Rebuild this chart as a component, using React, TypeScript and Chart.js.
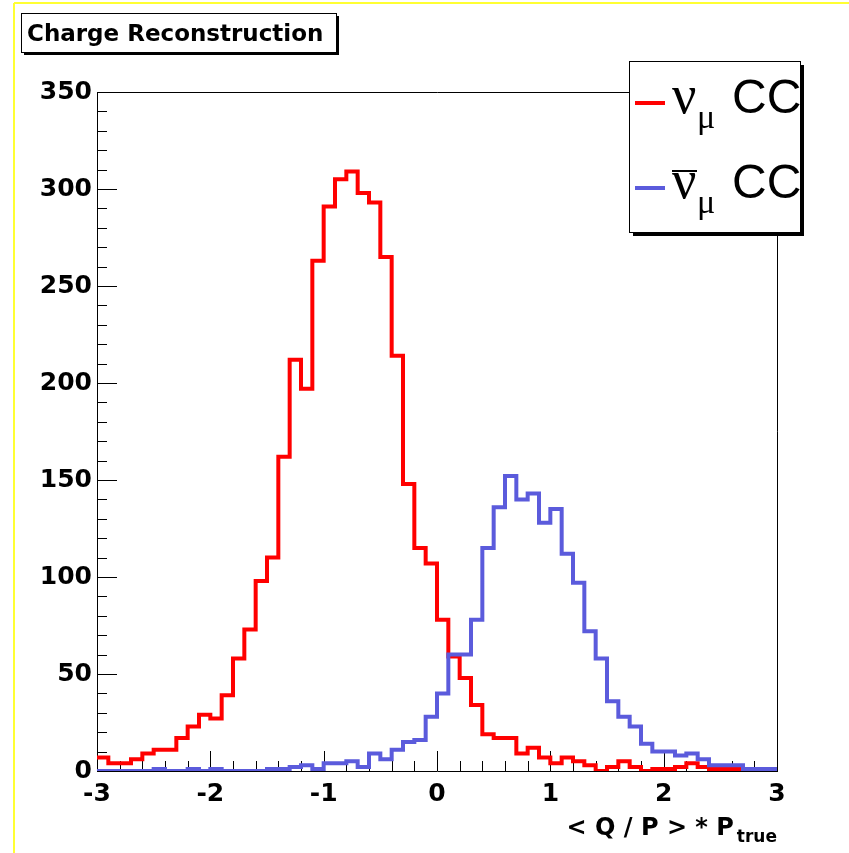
import React, { useEffect, useRef } from "react";
import { Chart, registerables } from "chart.js";

Chart.register(...registerables);

// ---- data ----
const X_MIN = -3;
const X_MAX = 3;
const BIN_WIDTH = 0.1;

// nu_mu CC (red)
const numuCC = [
  7, 4, 4, 6, 9, 11, 11, 17, 23, 29,
  27, 39, 58, 73, 98, 110, 162, 212, 197, 263,
  291, 305, 309, 298, 293, 265, 214, 148, 115, 107,
  78, 59, 48, 34, 19, 17, 17, 9, 12, 7,
  4, 7, 5, 3, 0, 2, 5, 2, 0, 1,
  1, 2, 4, 2, 1, 1, 1, 0, 0, 0,
];

// anti-nu_mu CC (blue)
const numubarCC = [
  0, 0, 0, 0, 0, 1, 0, 0, 1, 0,
  1, 0, 0, 0, 0, 1, 1, 2, 3, 1,
  4, 4, 5, 2, 9, 6, 11, 15, 16, 28,
  40, 60, 60, 78, 115, 136, 152, 140, 143, 128,
  135, 112, 97, 72, 58, 36, 28, 23, 14, 10,
  10, 8, 9, 6, 3, 3, 3, 1, 1, 1,
];

const xTickValues = [-3, -2, -1, 0, 1, 2, 3];
const yTickValues = [0, 50, 100, 150, 200, 250, 300, 350];
const Y_MAX = 350;

const titleText = "Charge Reconstruction";
const xAxisTitle = "< Q / P > * P";
const xAxisTitleSub = "true";

const legendEntries = [
  { symbol: "\u03bd", sub: "\u03bc", text: "CC", bar: false, color: "#ff0000" },
  { symbol: "\u03bd", sub: "\u03bc", text: "CC", bar: true, color: "#5b5bdc" },
];

const RED = "#ff0000";
const BLUE = "#5b5bdc";

function outline(values: number[]) {
  const pts: { x: number; y: number }[] = [];
  values.forEach((v, i) => {
    const lo = X_MIN + i * BIN_WIDTH;
    pts.push({ x: lo, y: v }, { x: lo + BIN_WIDTH, y: v });
  });
  return pts;
}

const rootPlugin = {
  id: "rootStyle",
  beforeDraw(chart: any) {
    const ctx = chart.ctx;
    ctx.save();
    ctx.fillStyle = "#ffffff";
    ctx.fillRect(0, 0, chart.width, chart.height);
    ctx.strokeStyle = "#ffff33";
    ctx.lineWidth = 2;
    ctx.beginPath();
    ctx.moveTo(14, 3);
    ctx.lineTo(chart.width, 3);
    ctx.moveTo(14, 3);
    ctx.lineTo(14, chart.height);
    ctx.stroke();
    ctx.restore();
  },
  beforeDatasetsDraw(chart: any) {
    const ctx = chart.ctx;
    const { left, right, top, bottom } = chart.chartArea;
    const xs = chart.scales.x;
    const ys = chart.scales.y;
    ctx.save();
    ctx.strokeStyle = "#000";
    ctx.lineWidth = 1;
    ctx.beginPath();
    // frame top & right
    ctx.moveTo(left, top + 0.5);
    ctx.lineTo(right + 0.5, top + 0.5);
    ctx.lineTo(right + 0.5, bottom);
    // x ticks (inward)
    for (let k = 0; k <= 30; k++) {
      const v = X_MIN + k * 0.2;
      const px = Math.round(xs.getPixelForValue(v)) + 0.5;
      const len = k % 5 === 0 ? 20 : 10;
      ctx.moveTo(px, bottom);
      ctx.lineTo(px, bottom - len);
    }
    // y ticks (inward)
    for (let k = 0; k <= 35; k++) {
      const v = k * 10;
      const py = Math.round(ys.getPixelForValue(v)) + 0.5;
      const len = k % 5 === 0 ? 20 : 10;
      ctx.moveTo(left, py);
      ctx.lineTo(left + len, py);
    }
    ctx.stroke();
    ctx.restore();
  },
  afterDraw(chart: any) {
    const ctx = chart.ctx;
    ctx.save();
    // ---- title box ----
    const tb = { x: 21, y: 13, w: 315, h: 39 };
    ctx.fillStyle = "#000";
    ctx.fillRect(tb.x + 3, tb.y + 3, tb.w, tb.h);
    ctx.fillStyle = "#fff";
    ctx.fillRect(tb.x, tb.y, tb.w, tb.h);
    ctx.strokeStyle = "#000";
    ctx.lineWidth = 1;
    ctx.strokeRect(tb.x + 0.5, tb.y + 0.5, tb.w, tb.h);
    ctx.fillStyle = "#000";
    ctx.font = "bold 23px 'DejaVu Sans'";
    ctx.textBaseline = "alphabetic";
    ctx.textAlign = "left";
    ctx.fillText(titleText, 27, 41);

    // ---- x axis title ----
    const { right } = chart.chartArea;
    ctx.font = "bold 17px 'DejaVu Sans'";
    const subW = ctx.measureText(xAxisTitleSub).width;
    const subX = right - subW;
    ctx.fillText(xAxisTitleSub, subX, 842);
    ctx.font = "bold 24px 'DejaVu Sans'";
    ctx.textAlign = "right";
    ctx.fillText(xAxisTitle, subX - 3, 835);

    // ---- legend ----
    const lb = { x: 629, y: 61, w: 171, h: 171 };
    ctx.fillStyle = "#000";
    ctx.fillRect(lb.x + 4, lb.y + 4, lb.w, lb.h);
    ctx.fillStyle = "#fff";
    ctx.fillRect(lb.x, lb.y, lb.w, lb.h);
    ctx.strokeStyle = "#000";
    ctx.lineWidth = 1;
    ctx.strokeRect(lb.x + 0.5, lb.y + 0.5, lb.w, lb.h);
    ctx.save();
    ctx.beginPath();
    ctx.rect(lb.x + 1, lb.y + 1, lb.w - 1, lb.h - 1);
    ctx.clip();
    const rows = [
      { lineY: 103, base: 113, subBase: 128 },
      { lineY: 188, base: 198, subBase: 213 },
    ];
    legendEntries.forEach((e, i) => {
      const r = rows[i];
      ctx.strokeStyle = e.color;
      ctx.lineWidth = 4;
      ctx.beginPath();
      ctx.moveTo(635, r.lineY);
      ctx.lineTo(665, r.lineY);
      ctx.stroke();
      ctx.fillStyle = "#000";
      ctx.textAlign = "left";
      ctx.font = "54px 'Liberation Serif'";
      ctx.fillText(e.symbol, 672, r.base);
      if (e.bar) {
        ctx.strokeStyle = "#000";
        ctx.lineWidth = 2;
        ctx.beginPath();
        ctx.moveTo(672, r.base - 27);
        ctx.lineTo(697, r.base - 27);
        ctx.stroke();
      }
      ctx.font = "34px 'Liberation Serif'";
      ctx.fillText(e.sub, 697, r.subBase);
      ctx.font = "48px 'Liberation Sans'";
      ctx.fillText(e.text, 732, r.base);
    });
    ctx.restore();
    ctx.restore();
  },
};

export default function App() {
  const canvasRef = useRef<HTMLCanvasElement | null>(null);

  useEffect(() => {
    if (!canvasRef.current) return;
    const tickFont = { family: "'DejaVu Sans'", weight: "bold" as const, size: 25 };
    const chart = new Chart(canvasRef.current, {
      type: "line",
      data: {
        datasets: [
          {
            label: "anti-nu_mu CC",
            data: outline(numubarCC),
            borderColor: BLUE,
            borderWidth: 4,
            pointRadius: 0,
            tension: 0,
            fill: false,
            borderJoinStyle: "miter",
            borderCapStyle: "butt",
          },
          {
            label: "nu_mu CC",
            data: outline(numuCC),
            borderColor: RED,
            borderWidth: 4,
            pointRadius: 0,
            tension: 0,
            fill: false,
            borderJoinStyle: "miter",
            borderCapStyle: "butt",
          },
        ],
      },
      options: {
        animation: false,
        responsive: false,
        maintainAspectRatio: false,
        layout: { padding: { top: 92, right: 72, bottom: 0, left: 0 } },
        plugins: {
          legend: { display: false },
          title: { display: false },
          tooltip: { enabled: false },
        },
        events: [],
        scales: {
          x: {
            type: "linear",
            min: X_MIN,
            max: X_MAX,
            afterBuildTicks: (s: any) => {
              s.ticks = xTickValues.map((v) => ({ value: v }));
            },
            afterFit: (s: any) => {
              s.height = 82;
            },
            ticks: {
              font: tickFont,
              color: "#000",
              padding: 8,
              maxRotation: 0,
              autoSkip: false,
              callback: (v: any) => String(v),
            },
            grid: { display: false, drawTicks: false },
            border: { display: true, color: "#000", width: 1 },
          },
          y: {
            type: "linear",
            min: 0,
            max: Y_MAX,
            afterBuildTicks: (s: any) => {
              s.ticks = yTickValues.map((v) => ({ value: v }));
            },
            afterFit: (s: any) => {
              s.width = 97;
            },
            ticks: {
              font: tickFont,
              color: "#000",
              padding: 5,
              autoSkip: false,
              callback: (v: any) => String(v),
            },
            grid: { display: false, drawTicks: false },
            border: { display: true, color: "#000", width: 1 },
          },
        },
      },
      plugins: [rootPlugin],
    } as any);
    return () => chart.destroy();
  }, []);

  return (
    <div style={{ position: "absolute", left: 0, top: 0, width: 849, height: 853, background: "#fff" }}>
      <canvas ref={canvasRef} width={849} height={853} style={{ display: "block", width: 849, height: 853 }} />
    </div>
  );
}
